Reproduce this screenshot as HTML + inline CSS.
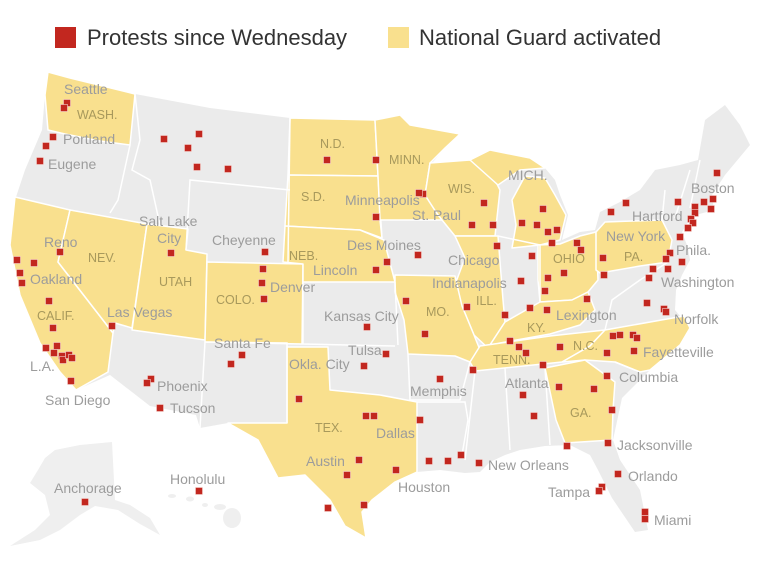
<!DOCTYPE html>
<html><head><meta charset="utf-8"><style>
html,body{margin:0;padding:0;background:#fff;}
svg{display:block;font-family:"Liberation Sans",Arial,sans-serif;}
.c{fill:#9c9c9c;font-size:14px;}
.s{fill:#a8995c;font-size:12.5px;}
</style></head><body>
<svg width="761" height="581" viewBox="0 0 761 581" xmlns="http://www.w3.org/2000/svg">
<rect x="55" y="27" width="21" height="21" fill="#c2271f"/>
<text x="87" y="45" font-size="22" fill="#333">Protests since Wednesday</text>
<rect x="388" y="27" width="21" height="21" fill="#f9e08e"/>
<text x="419" y="45" font-size="22" fill="#333">National Guard activated</text>

<!-- base land -->
<path fill="#ebebeb" d="M48,72 L70,78 L135,94 L210,108 L290,118 L375,120 L400,115 L410,125 L460,134 L445,148 L432,163 L470,160 L490,150 L530,158 L545,168 L555,180 L560,195 L568,215 L562,240 L580,232 L595,230 L600,212 L620,202 L640,190 L655,170 L680,165 L698,160 L705,120 L725,105 L740,125 L750,145 L725,175 L712,195 L714,210 L692,216 L682,232 L688,248 L690,260 L682,275 L676,290 L675,310 L690,328 L680,345 L650,370 L622,398 L613,440 L620,460 L640,490 L648,530 L635,532 L612,498 L598,470 L590,455 L570,445 L545,446 L520,450 L505,455 L490,462 L480,472 L465,473 L440,470 L417,472 L395,482 L372,500 L362,512 L366,538 L345,526 L330,500 L305,475 L278,478 L258,440 L228,423 L200,428 L196,415 L150,406 L110,375 L76,390 L60,372 L40,343 L20,295 L10,245 L15,200 L25,170 L42,130 L45,95 Z"/>

<!-- yellow states -->
<g fill="#f9e08e" stroke="#fff" stroke-width="1.5" stroke-linejoin="round">
<path d="M48,72 L70,78 L135,94 L130,145 L100,141 L65,134 L48,130 L45,95 Z"/>
<path d="M15,197 L70,210 L58,262 L113,333 L108,372 L76,390 L60,372 L40,343 L20,295 L10,245 Z"/>
<path d="M70,210 L147,224 L132,328 L115,323 L113,333 L58,262 Z"/>
<path d="M147,224 L188,229 L186,250 L207,254 L205,340 L132,330 Z"/>
<path d="M207,262 L303,264 L302,344 L205,342 Z"/>
<path d="M290,118 L375,120 L378,176 L288,175 Z"/>
<path d="M288,175 L378,176 L382,238 L360,230 L285,226 Z"/>
<path d="M285,226 L360,230 L384,240 L395,282 L303,282 L303,264 L283,262 Z"/>
<path d="M375,120 L400,115 L410,125 L460,134 L445,148 L430,163 L425,195 L436,212 L442,220 L380,220 L378,176 Z"/>
<path d="M430,163 L470,160 L490,170 L500,190 L495,236 L455,236 L442,220 L436,212 L425,195 Z"/>
<path d="M470,160 L490,150 L530,158 L545,168 L520,170 L498,185 Z"/>
<path d="M512,200 L525,176 L545,178 L555,195 L566,215 L560,240 L540,245 L512,248 L516,225 Z"/>
<path d="M455,236 L498,236 L503,300 L505,322 L488,348 L474,335 L462,306 L453,290 L465,258 Z"/>
<path d="M395,275 L455,276 L462,306 L474,335 L480,350 L470,362 L455,356 L408,354 L404,320 L395,292 Z"/>
<path d="M538,245 L560,244 L580,236 L596,232 L598,280 L588,292 L572,300 L540,302 L538,280 Z"/>
<path d="M488,348 L505,322 L540,302 L572,300 L588,292 L595,310 L580,325 L550,334 L500,343 Z"/>
<path d="M470,362 L480,346 L550,336 L605,330 L590,346 L562,362 L475,371 Z"/>
<path d="M562,362 L590,346 L605,330 L684,316 L690,328 L680,345 L650,370 L640,372 L615,362 L585,360 Z"/>
<path d="M545,368 L585,360 L615,382 L613,410 L612,440 L565,443 L556,420 Z"/>
<path d="M596,232 L605,222 L662,220 L672,240 L668,262 L640,266 L600,273 L596,270 Z"/>
<path d="M287,347 L328,347 L330,390 L380,395 L417,402 L417,472 L395,482 L372,500 L362,512 L366,538 L345,526 L330,500 L305,475 L278,478 L258,440 L228,423 L287,423 Z"/>
</g>
<!-- gray state borders -->
<g stroke="#fff" stroke-width="1.5" fill="none">
<path d="M130,145 L118,200 L110,213"/>
<path d="M135,94 L140,140 L132,170 L150,180 L160,225"/>
<path d="M186,250 L190,180 L290,190"/>
<path d="M290,118 L288,262"/>
<path d="M205,342 L200,428"/>
<path d="M205,342 L287,343 L287,423"/>
<path d="M303,282 L303,344 L395,346"/>
<path d="M395,282 L398,345"/>
<path d="M380,220 L382,238"/>
<path d="M498,236 L540,245 L540,302"/>
<path d="M408,354 L410,400 L460,400 L470,362"/>
<path d="M417,402 L465,402 L468,420 L462,455"/>
<path d="M475,371 L465,460 M505,368 L510,450 M545,368 L550,445"/>
<path d="M615,362 L640,372"/>
<path d="M605,330 L612,300 L640,280 L668,262"/>
<path d="M662,220 L665,190 M675,218 L690,170 M690,208 L700,160"/>
</g>
<!-- Alaska / Hawaii -->
<path fill="#efefef" d="M55,450 L80,445 L112,442 L115,500 L130,505 L150,518 L160,535 L140,524 L118,510 L95,506 L80,515 L60,530 L40,540 L10,546 L35,530 L50,515 L45,495 L30,483 L38,470 L45,458 Z"/>
<g fill="#efefef"><ellipse cx="172" cy="496" rx="4" ry="2"/><ellipse cx="190" cy="499" rx="4" ry="2.5"/><ellipse cx="205" cy="505" rx="3" ry="2"/><ellipse cx="220" cy="507" rx="6" ry="3"/><ellipse cx="232" cy="518" rx="9" ry="10"/></g>

<!-- labels -->
<g class="s">
<text x="77" y="119">WASH.</text><text x="88" y="262">NEV.</text><text x="159" y="286">UTAH</text><text x="37" y="320">CALIF.</text><text x="216" y="304">COLO.</text>
<text x="320" y="148">N.D.</text><text x="389" y="164">MINN.</text><text x="301" y="201">S.D.</text><text x="448" y="193">WIS.</text><text x="289" y="260">NEB.</text>
<text x="426" y="316">MO.</text><text x="476" y="305">ILL.</text><text x="553" y="263">OHIO</text><text x="527" y="332">KY.</text><text x="493" y="364">TENN.</text>
<text x="573" y="350">N.C.</text><text x="315" y="432">TEX.</text><text x="570" y="417">GA.</text><text x="624" y="261">PA.</text>
</g>
<g class="c">
<text x="64" y="94">Seattle</text><text x="63" y="144">Portland</text><text x="48" y="169">Eugene</text><text x="139" y="226">Salt Lake</text><text x="157" y="243">City</text>
<text x="212" y="245">Cheyenne</text><text x="44" y="247">Reno</text><text x="30" y="284">Oakland</text><text x="107" y="317">Las Vegas</text><text x="270" y="292">Denver</text>
<text x="214" y="348">Santa Fe</text><text x="30" y="371">L.A.</text><text x="157" y="391">Phoenix</text><text x="45" y="405">San Diego</text><text x="170" y="413">Tucson</text>
<text x="508" y="180">MICH.</text><text x="345" y="205">Minneapolis</text><text x="412" y="220">St. Paul</text><text x="347" y="250">Des Moines</text><text x="313" y="275">Lincoln</text>
<text x="448" y="265">Chicago</text><text x="432" y="288">Indianapolis</text><text x="324" y="321">Kansas City</text><text x="556" y="320">Lexington</text><text x="348" y="355">Tulsa</text>
<text x="289" y="369">Okla. City</text><text x="643" y="357">Fayetteville</text><text x="410" y="396">Memphis</text><text x="505" y="388">Atlanta</text><text x="619" y="382">Columbia</text>
<text x="376" y="438">Dallas</text><text x="306" y="466">Austin</text><text x="617" y="450">Jacksonville</text><text x="488" y="470">New Orleans</text><text x="398" y="492">Houston</text>
<text x="628" y="481">Orlando</text><text x="548" y="497">Tampa</text><text x="654" y="525">Miami</text><text x="54" y="493">Anchorage</text><text x="170" y="484">Honolulu</text>
<text x="606" y="241">New York</text><text x="676" y="255">Phila.</text><text x="632" y="221">Hartford</text><text x="691" y="193">Boston</text><text x="661" y="287">Washington</text><text x="674" y="324">Norfolk</text>
</g>

<!-- dots -->
<g fill="#c2271f" stroke="#fff" stroke-width="0.7">
<script></script>
</g>
<g fill="#c2271f" stroke="#f4d0cc" stroke-width="0.6" transform="translate(-3.5,-3.5)">
<rect x="67" y="103" width="7" height="7"/><rect x="64" y="108" width="7" height="7"/><rect x="53" y="137" width="7" height="7"/><rect x="46" y="146" width="7" height="7"/><rect x="40" y="161" width="7" height="7"/>
<rect x="164" y="139" width="7" height="7"/><rect x="199" y="134" width="7" height="7"/><rect x="188" y="148" width="7" height="7"/><rect x="197" y="167" width="7" height="7"/><rect x="228" y="169" width="7" height="7"/>
<rect x="17" y="260" width="7" height="7"/><rect x="34" y="263" width="7" height="7"/><rect x="20" y="273" width="7" height="7"/><rect x="22" y="283" width="7" height="7"/><rect x="49" y="301" width="7" height="7"/>
<rect x="60" y="252" width="7" height="7"/><rect x="171" y="253" width="7" height="7"/><rect x="265" y="252" width="7" height="7"/><rect x="263" y="269" width="7" height="7"/><rect x="262" y="283" width="7" height="7"/><rect x="264" y="299" width="7" height="7"/>
<rect x="53" y="328" width="7" height="7"/><rect x="112" y="326" width="7" height="7"/><rect x="46" y="348" width="7" height="7"/><rect x="57" y="346" width="7" height="7"/><rect x="54" y="353" width="7" height="7"/><rect x="62" y="356" width="7" height="7"/><rect x="63" y="360" width="7" height="7"/><rect x="69" y="355" width="7" height="7"/><rect x="72" y="358" width="7" height="7"/><rect x="71" y="381" width="7" height="7"/>
<rect x="151" y="379" width="7" height="7"/><rect x="147" y="383" width="7" height="7"/><rect x="160" y="408" width="7" height="7"/><rect x="242" y="355" width="7" height="7"/><rect x="231" y="364" width="7" height="7"/><rect x="299" y="399" width="7" height="7"/>
<rect x="85" y="502" width="7" height="7"/><rect x="199" y="491" width="7" height="7"/><rect x="328" y="508" width="7" height="7"/>
<rect x="327" y="160" width="7" height="7"/><rect x="376" y="160" width="7" height="7"/><rect x="423" y="194" width="7" height="7"/><rect x="419" y="193" width="7" height="7"/><rect x="376" y="217" width="7" height="7"/>
<rect x="484" y="203" width="7" height="7"/><rect x="472" y="225" width="7" height="7"/><rect x="493" y="225" width="7" height="7"/><rect x="522" y="223" width="7" height="7"/><rect x="537" y="225" width="7" height="7"/><rect x="497" y="246" width="7" height="7"/><rect x="532" y="256" width="7" height="7"/>
<rect x="418" y="255" width="7" height="7"/><rect x="387" y="262" width="7" height="7"/><rect x="376" y="270" width="7" height="7"/><rect x="521" y="281" width="7" height="7"/><rect x="406" y="301" width="7" height="7"/><rect x="467" y="307" width="7" height="7"/>
<rect x="367" y="327" width="7" height="7"/><rect x="425" y="334" width="7" height="7"/><rect x="505" y="315" width="7" height="7"/><rect x="530" y="308" width="7" height="7"/><rect x="547" y="310" width="7" height="7"/>
<rect x="543" y="209" width="7" height="7"/><rect x="548" y="232" width="7" height="7"/><rect x="557" y="230" width="7" height="7"/><rect x="552" y="243" width="7" height="7"/><rect x="577" y="243" width="7" height="7"/><rect x="581" y="250" width="7" height="7"/><rect x="564" y="273" width="7" height="7"/><rect x="548" y="278" width="7" height="7"/><rect x="545" y="291" width="7" height="7"/><rect x="587" y="299" width="7" height="7"/>
<rect x="717" y="173" width="7" height="7"/><rect x="713" y="199" width="7" height="7"/><rect x="704" y="202" width="7" height="7"/><rect x="711" y="209" width="7" height="7"/><rect x="678" y="202" width="7" height="7"/><rect x="626" y="203" width="7" height="7"/><rect x="611" y="212" width="7" height="7"/>
<rect x="695" y="207" width="7" height="7"/><rect x="695" y="213" width="7" height="7"/><rect x="691" y="219" width="7" height="7"/><rect x="693" y="223" width="7" height="7"/><rect x="688" y="228" width="7" height="7"/><rect x="680" y="237" width="7" height="7"/>
<rect x="670" y="253" width="7" height="7"/><rect x="666" y="259" width="7" height="7"/><rect x="682" y="262" width="7" height="7"/><rect x="668" y="269" width="7" height="7"/><rect x="653" y="269" width="7" height="7"/><rect x="649" y="278" width="7" height="7"/><rect x="603" y="258" width="7" height="7"/><rect x="604" y="275" width="7" height="7"/>
<rect x="647" y="303" width="7" height="7"/><rect x="664" y="309" width="7" height="7"/><rect x="666" y="312" width="7" height="7"/>
<rect x="510" y="341" width="7" height="7"/><rect x="519" y="347" width="7" height="7"/><rect x="526" y="353" width="7" height="7"/><rect x="560" y="347" width="7" height="7"/><rect x="543" y="365" width="7" height="7"/>
<rect x="613" y="336" width="7" height="7"/><rect x="620" y="335" width="7" height="7"/><rect x="633" y="335" width="7" height="7"/><rect x="637" y="338" width="7" height="7"/><rect x="607" y="353" width="7" height="7"/><rect x="634" y="351" width="7" height="7"/><rect x="607" y="376" width="7" height="7"/>
<rect x="559" y="387" width="7" height="7"/><rect x="594" y="389" width="7" height="7"/><rect x="523" y="395" width="7" height="7"/><rect x="534" y="416" width="7" height="7"/><rect x="612" y="410" width="7" height="7"/>
<rect x="386" y="354" width="7" height="7"/><rect x="364" y="366" width="7" height="7"/><rect x="440" y="379" width="7" height="7"/><rect x="473" y="370" width="7" height="7"/>
<rect x="366" y="416" width="7" height="7"/><rect x="374" y="416" width="7" height="7"/><rect x="420" y="420" width="7" height="7"/><rect x="359" y="460" width="7" height="7"/><rect x="347" y="475" width="7" height="7"/><rect x="396" y="470" width="7" height="7"/><rect x="364" y="505" width="7" height="7"/>
<rect x="429" y="461" width="7" height="7"/><rect x="448" y="461" width="7" height="7"/><rect x="461" y="455" width="7" height="7"/><rect x="479" y="463" width="7" height="7"/>
<rect x="567" y="446" width="7" height="7"/><rect x="608" y="443" width="7" height="7"/><rect x="618" y="474" width="7" height="7"/><rect x="602" y="487" width="7" height="7"/><rect x="599" y="491" width="7" height="7"/><rect x="645" y="512" width="7" height="7"/><rect x="645" y="519" width="7" height="7"/>
</g>
</svg>
</body></html>
